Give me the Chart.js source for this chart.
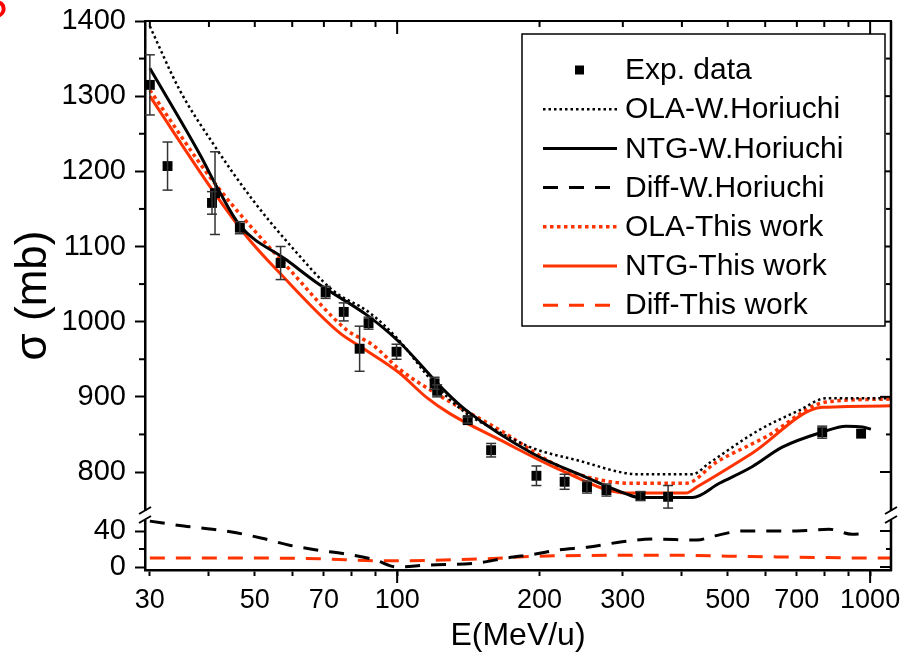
<!DOCTYPE html>
<html>
<head>
<meta charset="utf-8">
<script src="https://cdn.jsdelivr.net/npm/chart.js@4.4.0/dist/chart.umd.min.js"></script>
<style>
  body { margin: 0; background: #fff; }
  #wrap { width: 904px; height: 654px; }
</style>
</head>
<body>
<div id="wrap"><canvas id="chart_div" width="904" height="654"></canvas></div>
<script>
// experimental points (E in MeV/u, sigma in mb, error in mb)
const expE     = [30, 32.7, 40.6, 41.2, 46.5, 56.7, 70.6, 77.1, 83.3, 87, 99.7, 120, 121.5, 141, 158, 197, 226, 252, 277, 327, 374, 792, 957];
const expSigma = [1315, 1207, 1158, 1171, 1125, 1078, 1039, 1013, 964, 998, 960, 918, 908, 869, 829, 795, 787, 780, 776, 768, 767, 853, 851];
const expErr   = [40, 32, 15, 55, 8, 22, 8, 12, 30, 8, 10, 8, 8, 4, 9, 13, 10, 8, 8, 6, 15, 8, 0];

// W.Horiuchi calculations
const olaWhE = [30, 34.7, 40.7, 49.5, 60.1, 73, 87.4, 100, 120, 140, 157, 193, 239, 325, 421, 457, 583, 708, 807, 1100];
const olaWh  = [1393, 1308, 1238, 1162, 1098, 1042, 1012, 978, 917, 878, 860, 832, 816, 797, 797, 812, 856, 882, 898, 898];
const ntgWhE = [30, 38.3, 41.6, 46.5, 58.4, 68.6, 86.2, 101, 127, 140, 193, 251, 305, 325, 421, 480, 563, 652, 792, 890, 963, 1004];
const ntgWh  = [1337, 1222, 1179, 1128, 1082, 1049, 1009, 973, 906, 882, 825, 793, 771, 766, 766, 785, 807, 833, 853, 861, 860, 857];
const diffWhE = [30, 35.4, 40.7, 45.7, 51.8, 59.5, 67.6, 77.8, 89.6, 100, 115, 148, 170, 196, 219, 252, 299, 345, 431, 468, 539, 620, 700, 819, 916, 960];
const diffWh  = [51, 45.5, 42, 38, 32, 24, 19, 14.5, 8, 0, 2, 4.5, 10, 14.5, 19, 22, 28, 31, 30, 34.5, 40, 40, 40, 42, 36.5, 37];

// this work
const olaTwE = [30, 40.7, 60.1, 78.2, 88.8, 101, 119, 164.6, 228, 314, 408, 473, 603, 807, 1107];
const olaTw  = [1308, 1188, 1065, 989, 969, 937, 907, 856, 803, 785, 785, 813, 847, 893, 897];
const ntgTwE = [30, 40.7, 48.1, 56.4, 75.6, 84.5, 101, 115, 129, 164.6, 228, 305, 408, 430, 563, 792, 1107];
const ntgTw  = [1300, 1175, 1113, 1065, 985, 965, 932, 900, 878, 843, 799, 772, 772, 780, 825, 886, 888];
const diffTwE = [30, 50, 70, 90, 100, 150, 200, 300, 400, 500, 700, 1000, 1107];
const diffTw  = [10, 10, 9, 7, 7, 9, 12, 13, 13, 12, 11, 10, 10];

// axis ticks
const xTicks = [30, 40, 50, 60, 70, 80, 90, 100, 200, 300, 400, 500, 600, 700, 800, 900, 1000];
const xLabels = [30, 50, 70, 100, 200, 300, 500, 700, 1000];
const xMajor = [100, 1000];
const sigmaTicks = [800, 900, 1000, 1100, 1200, 1300, 1400];
const sigmaMinor = [850, 950, 1050, 1150, 1250, 1350];
const diffTicks = [0, 40];
const diffMinor = [20];

const RED = '#ff3300';

function pts(xs, ys) {
  return xs.map((x, i) => ({x: x, y: ys[i]}));
}

function line(ctx, x1, y1, x2, y2) {
  ctx.beginPath();
  ctx.moveTo(x1, y1);
  ctx.lineTo(x2, y2);
  ctx.stroke();
}

// error bars of the experimental data
const errorBars = {
  id: 'errorBars',
  afterDatasetsDraw(chart) {
    const ctx = chart.ctx;
    const xs = chart.scales.x, ys = chart.scales.y;
    ctx.save();
    ctx.strokeStyle = '#333';
    ctx.lineWidth = 1.5;
    expE.forEach((e, i) => {
      if (!expErr[i]) return;
      const px = xs.getPixelForValue(e);
      const top = ys.getPixelForValue(expSigma[i] + expErr[i]);
      const bot = ys.getPixelForValue(expSigma[i] - expErr[i]);
      line(ctx, px, top, px, bot);
      line(ctx, px - 5, top, px + 5, top);
      line(ctx, px - 5, bot, px + 5, bot);
    });
    ctx.restore();
  }
};

// top/right mirror axes, minor ticks, axis break, legend and y title
const frame = {
  id: 'frame',
  afterDraw(chart) {
    const ctx = chart.ctx;
    const a = chart.chartArea;
    const xs = chart.scales.x, yu = chart.scales.y, yl = chart.scales.y2;
    ctx.save();
    ctx.strokeStyle = '#000';
    ctx.lineWidth = 2;
    line(ctx, a.left, a.top, a.right + 1, a.top);
    ctx.lineWidth = 2.5;
    line(ctx, a.right, a.top, a.right, a.bottom + 1);

    ctx.lineWidth = 2;
    xTicks.forEach(v => {
      const px = xs.getPixelForValue(v);
      const major = xMajor.includes(v);
      line(ctx, px, a.top, px, a.top + (major ? 13 : 6));
      if (major) line(ctx, px, a.bottom, px, a.bottom + 13);
    });
    sigmaTicks.forEach(v => {
      const py = yu.getPixelForValue(v);
      line(ctx, a.right, py, a.right - 11, py);
    });
    sigmaMinor.forEach(v => {
      const py = yu.getPixelForValue(v);
      line(ctx, a.right, py, a.right - 5, py);
      line(ctx, a.left, py, a.left - 6, py);
    });
    diffTicks.forEach(v => {
      const py = yl.getPixelForValue(v);
      line(ctx, a.right, py, a.right - 11, py);
    });
    diffMinor.forEach(v => {
      const py = yl.getPixelForValue(v);
      line(ctx, a.right, py, a.right - 5, py);
      line(ctx, a.left, py, a.left - 6, py);
    });

    // axis break
    const b = yu.bottom;
    [a.left, a.right].forEach(x0 => {
      ctx.fillStyle = '#fff';
      ctx.fillRect(x0 - 3, b - 4, 6, 9);
      ctx.lineWidth = 2;
      line(ctx, x0 - 6, b - 1, x0 + 6, b - 8);
      line(ctx, x0 - 6, b + 8, x0 + 6, b + 1);
    });

    // legend
    const L = {left: 522, top: 34, right: 885, bottom: 326};
    ctx.fillStyle = '#fff';
    ctx.fillRect(L.left, L.top, L.right - L.left, L.bottom - L.top);
    ctx.lineWidth = 1.5;
    ctx.strokeStyle = '#000';
    ctx.strokeRect(L.left, L.top, L.right - L.left, L.bottom - L.top);
    ctx.font = '30px Arial, "Liberation Sans", sans-serif';
    ctx.textBaseline = 'middle';
    ctx.textAlign = 'left';
    chart.data.datasets.forEach((ds, i) => {
      const y = 70 + i * 39.2;
      if (i === 0) {
        ctx.fillStyle = '#000';
        ctx.fillRect(575, y - 4.5, 9, 9);
      } else {
        ctx.save();
        ctx.strokeStyle = ds.borderColor;
        ctx.lineWidth = ds.borderWidth;
        ctx.setLineDash(ds.borderDash || []);
        line(ctx, 543, y, 617, y);
        ctx.restore();
      }
      ctx.fillStyle = '#000';
      ctx.fillText(ds.label, 625, y + 1);
    });

    // y title, centred on both panels
    ctx.save();
    ctx.translate(34, (a.top + a.bottom) / 2);
    ctx.rotate(-Math.PI / 2);
    ctx.font = '44px Arial, "Liberation Sans", sans-serif';
    ctx.textAlign = 'center';
    ctx.textBaseline = 'middle';
    ctx.fillStyle = '#000';
    ctx.fillText('\u03c3 (mb)', 0, 0);
    ctx.restore();

    // red mark cut at the corner
    ctx.font = '44px Arial, "Liberation Sans", sans-serif';
    ctx.fillStyle = '#ff0000';
    ctx.textAlign = 'center';
    ctx.textBaseline = 'alphabetic';
    ctx.fillText('?', -5, 31);
    ctx.restore();
  }
};

Chart.defaults.font.family = 'Arial, "Liberation Sans", sans-serif';
Chart.defaults.color = '#000';

const ctx = document.getElementById('chart_div');
new Chart(ctx, {
  type: 'scatter',
  data: {
    datasets: [
      { label: 'Exp. data', data: pts(expE, expSigma), yAxisID: 'y', showLine: false,
        pointStyle: 'rect', pointRadius: 7, backgroundColor: '#000', borderColor: '#000', borderWidth: 0 },
      { label: 'OLA-W.Horiuchi', data: pts(olaWhE, olaWh), yAxisID: 'y', showLine: true,
        borderColor: '#000', borderWidth: 2.5, borderDash: [2.5, 3], pointRadius: 0, cubicInterpolationMode: 'monotone' },
      { label: 'NTG-W.Horiuchi', data: pts(ntgWhE, ntgWh), yAxisID: 'y', showLine: true,
        borderColor: '#000', borderWidth: 3, pointRadius: 0, cubicInterpolationMode: 'monotone' },
      { label: 'Diff-W.Horiuchi', data: pts(diffWhE, diffWh), yAxisID: 'y2', showLine: true,
        borderColor: '#000', borderWidth: 3, borderDash: [15, 11], pointRadius: 0, cubicInterpolationMode: 'monotone' },
      { label: 'OLA-This work', data: pts(olaTwE, olaTw), yAxisID: 'y', showLine: true,
        borderColor: RED, borderWidth: 3.5, borderDash: [3.5, 3.5], pointRadius: 0, cubicInterpolationMode: 'monotone' },
      { label: 'NTG-This work', data: pts(ntgTwE, ntgTw), yAxisID: 'y', showLine: true,
        borderColor: RED, borderWidth: 3, pointRadius: 0, cubicInterpolationMode: 'monotone' },
      { label: 'Diff-This work', data: pts(diffTwE, diffTw), yAxisID: 'y2', showLine: true,
        borderColor: RED, borderWidth: 3, borderDash: [15, 11], pointRadius: 0, cubicInterpolationMode: 'monotone' }
    ]
  },
  options: {
    responsive: false,
    animation: false,
    layout: { padding: { top: 21, right: 13, left: 0, bottom: 0 } },
    plugins: {
      legend: { display: false },
      tooltip: { enabled: false }
    },
    scales: {
      x: {
        type: 'logarithmic', position: 'bottom', min: 29.3, max: 1107,
        afterBuildTicks: s => { s.ticks = xTicks.map(v => ({value: v})); },
        afterFit: s => { s.height = 84; s.paddingLeft = 0; s.paddingRight = 0; },
        ticks: {
          autoSkip: false, maxRotation: 0, padding: 8, font: { size: 27 },
          callback: v => xLabels.includes(v) ? String(v) : ''
        },
        grid: { drawOnChartArea: false, tickLength: 6, tickWidth: 2, tickColor: '#000' },
        border: { color: '#000', width: 2.5 },
        title: { display: true, text: 'E(MeV/u)', font: { size: 32, lineHeight: 1 }, padding: { top: 0, bottom: 2 } }
      },
      y: {
        type: 'linear', position: 'left', stack: 'sig', stackWeight: 494, weight: 1,
        min: 742.8, max: 1400,
        afterBuildTicks: s => { s.ticks = sigmaTicks.map(v => ({value: v})); },
        afterFit: s => { s.width = 145; s.paddingTop = 0; s.paddingBottom = 0; },
        ticks: { autoSkip: false, padding: 9, font: { size: 29 }, callback: v => String(v) },
        grid: { drawOnChartArea: false, tickLength: 10, tickWidth: 2, tickColor: '#000' },
        border: { color: '#000', width: 2.5 }
      },
      y2: {
        type: 'linear', position: 'left', stack: 'sig', stackWeight: 55, weight: 0,
        min: -3.3, max: 57.8,
        afterBuildTicks: s => { s.ticks = diffTicks.map(v => ({value: v})); },
        afterFit: s => { s.width = 145; s.paddingTop = 0; s.paddingBottom = 0; },
        ticks: { autoSkip: false, padding: 9, font: { size: 29 }, callback: v => String(v) },
        grid: { drawOnChartArea: false, tickLength: 10, tickWidth: 2, tickColor: '#000' },
        border: { color: '#000', width: 2.5 }
      }
    }
  },
  plugins: [errorBars, frame]
});
</script>
</body>
</html>
